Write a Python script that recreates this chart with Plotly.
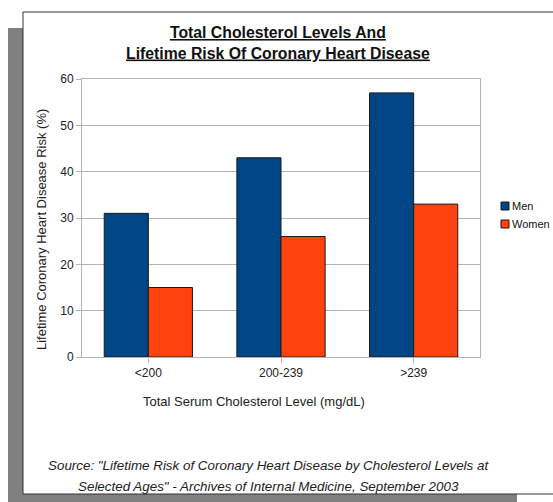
import plotly.graph_objects as go

categories = ["<200", "200-239", ">239"]
men = [31, 43, 57]
women = [15, 26, 33]
series_names = ["Men", "Women"]
colors = ["#004586", "#ff420e"]
y_ticks = [0, 10, 20, 30, 40, 50, 60]

title_text = "<b><u>Total Cholesterol Levels And</u></b><br><b><u>Lifetime Risk Of Coronary Heart Disease</u></b>"
x_title = "Total Serum Cholesterol Level (mg/dL)"
y_title = "Lifetime Coronary Heart Disease Risk (%)"
source_lines = ["Source: \"Lifetime Risk of Coronary Heart Disease by Cholesterol Levels at",
                "Selected Ages\" - Archives of Internal Medicine, September 2003"]

W, H = 553, 502
L, R, T, B = 82, 480, 79, 357
pw, ph = R - L, B - T

def px(x):
    return (x - L) / pw

def py(y):
    return (B - y) / ph

fig = go.Figure()
for name, vals, col in zip(series_names, [men, women], colors):
    fig.add_trace(go.Bar(x=categories, y=vals, name=name, hoverinfo="skip",
                         marker=dict(color=col, line=dict(color="#1a1a1a", width=1))))

font_family = "Liberation Sans, Arial, sans-serif"
grid = "#b3b3b3"

shapes = [
    dict(type="rect", xref="paper", yref="paper", layer="below",
         x0=px(8), x1=px(517), y0=py(503), y1=py(28),
         fillcolor="#808080", line=dict(width=0)),
    dict(type="rect", xref="paper", yref="paper", layer="below",
         x0=px(23), x1=px(560), y0=py(494), y1=py(12),
         fillcolor="white", line=dict(color="#333", width=1)),
]

ann = []
# legend (built by hand to match the compact original layout)
for i, (name, col) in enumerate(zip(series_names, colors)):
    cy = 206 + 18 * i
    shapes.append(dict(type="rect", xref="paper", yref="paper",
                       x0=px(501), x1=px(509), y0=py(cy + 4), y1=py(cy - 4),
                       fillcolor=col, line=dict(color="#1a1a1a", width=1)))
    ann.append(dict(text=name, x=px(510), y=py(cy), xref="paper", yref="paper",
                    xanchor="left", yanchor="middle", showarrow=False,
                    font=dict(size=11, color="#111")))

fig.update_layout(
    width=W, height=H,
    margin=dict(l=L, r=W - R, t=T, b=H - B, pad=0, autoexpand=False),
    paper_bgcolor="white", plot_bgcolor="rgba(0,0,0,0)",
    barmode="group", bargap=0.335, bargroupgap=0,
    font=dict(family=font_family, size=12, color="#222"),
    showlegend=False,
    xaxis=dict(showgrid=False, showline=True, linecolor=grid, mirror=True,
               ticks="outside", ticklen=5, tickcolor=grid,
               tickfont=dict(size=12, color="#222"), fixedrange=True),
    yaxis=dict(range=[0, 60], tickvals=y_ticks, showgrid=True, gridcolor=grid,
               gridwidth=1, showline=True, linecolor=grid, mirror=True,
               ticks="outside", ticklen=5, tickcolor=grid, zeroline=False,
               tickfont=dict(size=12, color="#222"), fixedrange=True),
    shapes=shapes,
)

ann.append(dict(text=title_text, x=px(278), y=py(43), xref="paper", yref="paper",
                xanchor="center", yanchor="middle", showarrow=False,
                font=dict(size=15.8, color="#111", family=font_family)))
ann.append(dict(text=y_title, x=px(41), y=py(230), xref="paper", yref="paper",
                xanchor="center", yanchor="middle", showarrow=False, textangle=-90,
                font=dict(size=13, color="#222")))
ann.append(dict(text=x_title, x=px(254), y=py(401), xref="paper", yref="paper",
                xanchor="center", yanchor="middle", showarrow=False,
                font=dict(size=13, color="#222")))
for i, line in enumerate(source_lines):
    ann.append(dict(text="<i>" + line + "</i>", x=px(268), y=py(465 + 21 * i),
                    xref="paper", yref="paper", xanchor="center", yanchor="middle",
                    showarrow=False, font=dict(size=13.4, color="#222")))
fig.update_layout(annotations=ann)

fig.write_html("out.html", config={"displayModeBar": False, "staticPlot": True},
               post_script="document.body.style.margin='0';document.body.style.overflow='hidden';")
